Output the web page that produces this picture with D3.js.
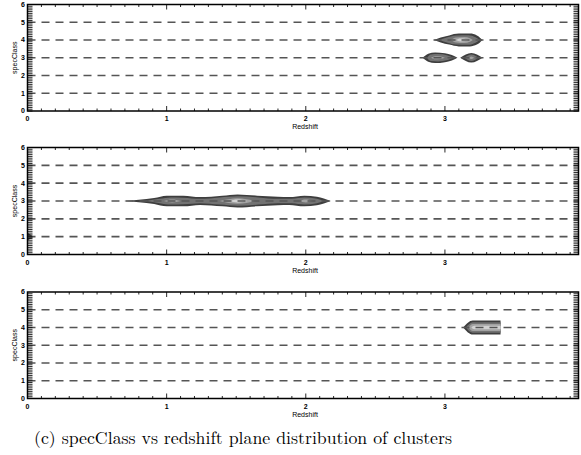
<!DOCTYPE html>
<html><head><meta charset="utf-8">
<script src="https://cdn.jsdelivr.net/npm/d3@7"></script>
<style>body{margin:0;background:#fff}svg{display:block}</style>
</head><body>
<svg id="c" width="581" height="455"></svg>
<script>
// ---- data ----
const xTickValues = [0, 1, 2, 3];
const yTickValues = [0, 1, 2, 3, 4, 5, 6];
const gridValues = [1, 2, 3, 4, 5];
const xLabel = "Redshift";
const yLabel = "specClass";
const caption = "(c) specClass vs redshift plane distribution of clusters";
const levelColors = ["#3e3e3e", "#727272", "#a2a2a2", "#d2d2d2"];

// each contour: class value (row), level index, profile [redshift, half-height]
const panel1Contours = [
  {row: 4, level: 0, pts: [[2.92,0],[2.97,0.14],[3.03,0.26],[3.10,0.36],[3.18,0.36],[3.23,0.26],[3.27,0]]},
  {row: 4, level: 1, pts: [[2.96,0],[3.02,0.16],[3.08,0.26],[3.17,0.27],[3.22,0.15],[3.25,0]]},
  {row: 4, level: 2, pts: [[3.04,0],[3.08,0.14],[3.14,0.17],[3.18,0.10],[3.20,0]]},
  {row: 4, level: 3, pts: [[3.08,0],[3.11,0.08],[3.15,0.06],[3.17,0]]},
  {row: 3, level: 0, pts: [[2.84,0],[2.88,0.22],[2.93,0.30],[3.00,0.25],[3.05,0.15],[3.09,0]]},
  {row: 3, level: 1, pts: [[2.87,0],[2.90,0.19],[2.95,0.21],[3.02,0.13],[3.06,0]]},
  {row: 3, level: 2, pts: [[2.90,0],[2.93,0.09],[2.97,0.07],[3.00,0]]},
  {row: 3, level: 0, pts: [[3.11,0],[3.19,0.27],[3.27,0]]},
  {row: 3, level: 1, pts: [[3.14,0],[3.19,0.18],[3.24,0]]},
  {row: 3, level: 2, pts: [[3.17,0],[3.19,0.07],[3.21,0]]}
];
const panel2Contours = [
  {row: 3, level: 0, pts: [[0.69,0],[0.80,0.07],[0.91,0.17],[1.00,0.30],[1.12,0.30],[1.24,0.22],[1.40,0.30],[1.51,0.37],[1.65,0.30],[1.80,0.24],[1.88,0.22],[1.99,0.30],[2.08,0.24],[2.18,0]]},
  {row: 3, level: 1, pts: [[0.85,0],[0.95,0.12],[1.03,0.20],[1.12,0.18],[1.24,0.12],[1.38,0.20],[1.51,0.27],[1.66,0.20],[1.80,0.12],[1.90,0.13],[1.99,0.20],[2.08,0.12],[2.13,0]]},
  {row: 3, level: 2, pts: [[0.98,0],[1.04,0.08],[1.10,0]]},
  {row: 3, level: 2, pts: [[1.38,0],[1.51,0.16],[1.64,0]]},
  {row: 3, level: 2, pts: [[1.95,0],[2.00,0.08],[2.05,0]]},
  {row: 3, level: 3, pts: [[1.45,0],[1.51,0.08],[1.58,0]]},
  {row: 1, level: 0, pts: [[0.00,0.22],[0.045,0]]}
];
const panel3Contours = [
  {row: 4, level: 0, pts: [[3.13,0],[3.20,0.40],[3.40,0.40]]},
  {row: 4, level: 1, pts: [[3.15,0],[3.20,0.30],[3.40,0.30]]},
  {row: 4, level: 2, pts: [[3.17,0],[3.20,0.20],[3.40,0.20]]},
  {row: 4, level: 3, pts: [[3.19,0],[3.21,0.10],[3.40,0.10]]}
];
const panelContours = [panel1Contours, panel2Contours, panel3Contours];

// ---- layout ----
const xDomain = [0, 3.96], yDomain = [0, 6];
const left = 27.5, right = 578.5;
const panels = [{top: 4.5, bottom: 111}, {top: 147.5, bottom: 254.5}, {top: 292, bottom: 398.5}];
const svg = d3.select("#c");
const x = d3.scaleLinear().domain(xDomain).range([left, right]);
const font = "'Liberation Sans', Arial, sans-serif";

panels.forEach((p, i) => {
  const y = d3.scaleLinear().domain(yDomain).range([p.bottom, p.top]);
  const g = svg.append("g");

  // contours
  const area = d3.area().curve(d3.curveMonotoneX);
  panelContours[i].forEach(c => {
    area.x(d => x(d[0])).y0(d => y(c.row - d[1])).y1(d => y(c.row + d[1]));
    g.append("path").attr("d", area(c.pts)).attr("fill", levelColors[c.level]);
  });

  // dashed grid lines
  g.selectAll(".grid").data(gridValues).enter().append("line")
    .attr("x1", left).attr("x2", right)
    .attr("y1", d => y(d)).attr("y2", d => y(d))
    .attr("stroke", "#555").attr("stroke-width", 1.6).attr("stroke-dasharray", "8,6");

  // minor y ticks (comb) left and right
  const yMinor = d3.range(0, 60).map(k => k / 10);
  g.selectAll(".yl").data(yMinor).enter().append("line")
    .attr("x1", left).attr("x2", left + 5)
    .attr("y1", d => y(d)).attr("y2", d => y(d))
    .attr("stroke", "#111").attr("stroke-width", 0.9);
  g.selectAll(".yr").data(yMinor).enter().append("line")
    .attr("x1", right - 5).attr("x2", right)
    .attr("y1", d => y(d)).attr("y2", d => y(d))
    .attr("stroke", "#111").attr("stroke-width", 0.9);

  // x ticks top and bottom
  const xMinor = d3.range(0, 40).map(k => k / 10);
  g.selectAll(".xb").data(xMinor).enter().append("line")
    .attr("x1", d => x(d)).attr("x2", d => x(d))
    .attr("y1", p.bottom).attr("y2", d => p.bottom - (Math.abs(d - Math.round(d)) < 1e-6 ? 5 : 2.5))
    .attr("stroke", "#111").attr("stroke-width", 0.9);
  g.selectAll(".xt").data(xMinor).enter().append("line")
    .attr("x1", d => x(d)).attr("x2", d => x(d))
    .attr("y1", p.top).attr("y2", d => p.top + (Math.abs(d - Math.round(d)) < 1e-6 ? 5 : 2.5))
    .attr("stroke", "#111").attr("stroke-width", 0.9);

  // frame
  g.append("rect").attr("x", left).attr("y", p.top)
    .attr("width", right - left).attr("height", p.bottom - p.top)
    .attr("fill", "none").attr("stroke", "#000").attr("stroke-width", 1.5);

  // tick labels
  g.selectAll(".ytl").data(yTickValues).enter().append("text")
    .attr("x", left - 2.5).attr("y", d => y(d)).attr("dy", "0.35em")
    .attr("text-anchor", "end").attr("font-family", font).attr("font-size", 7)
    .attr("font-weight", "bold").text(d => d);
  g.selectAll(".xtl").data(xTickValues).enter().append("text")
    .attr("x", d => x(d)).attr("y", p.bottom + 8).attr("dy", "0.35em")
    .attr("text-anchor", "middle").attr("font-family", font).attr("font-size", 7)
    .attr("font-weight", "bold").text(d => d);

  // axis titles
  g.append("text").attr("x", (left + right) / 2 + 2).attr("y", p.bottom + 16).attr("dy", "0.35em")
    .attr("text-anchor", "middle").attr("font-family", font).attr("font-size", 7).text(xLabel);
  g.append("text")
    .attr("transform", `translate(15,${(p.top + p.bottom) / 2}) rotate(-90)`)
    .attr("text-anchor", "middle").attr("dy", "0.35em")
    .attr("font-family", font).attr("font-size", 7).text(yLabel);
});

svg.append("text").attr("x", 34).attr("y", 444)
  .attr("font-family", "'Latin Modern Roman','Liberation Serif','Times New Roman',serif")
  .attr("font-size", 17).attr("textLength", 418).attr("lengthAdjust", "spacingAndGlyphs")
  .text(caption);
</script>
</body></html>
